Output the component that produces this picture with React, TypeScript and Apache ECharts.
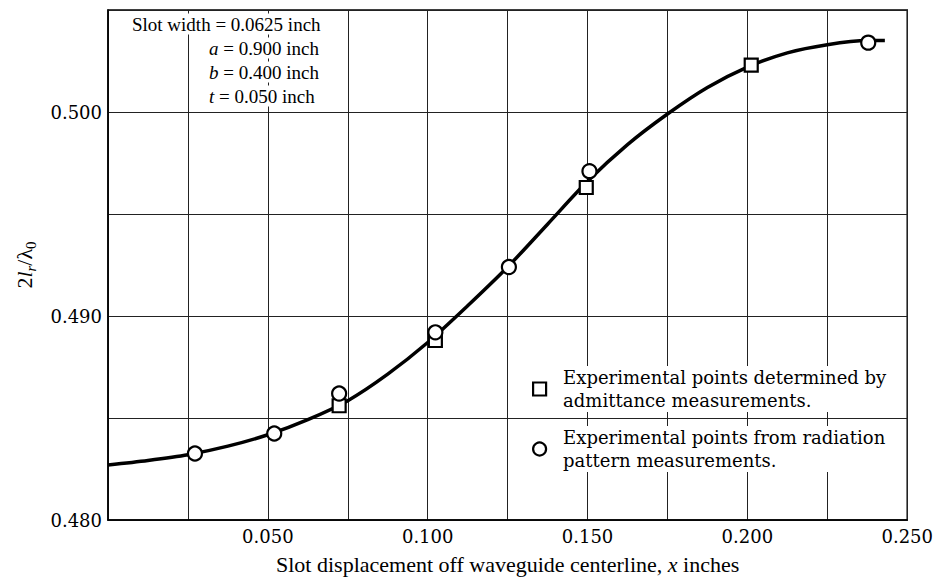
import React, { useEffect, useRef } from "react";
import * as echarts from "echarts";

// Smooth fitted curve
const curveX = [0, 0.0125, 0.025, 0.0375, 0.05, 0.0625, 0.075, 0.0875, 0.1, 0.1125, 0.125, 0.1375, 0.15, 0.1625, 0.175, 0.1875, 0.2, 0.2125, 0.225, 0.2375, 0.243];
const curveY = [0.4827, 0.48292, 0.4832, 0.48362, 0.48418, 0.48492, 0.48585, 0.48715, 0.4887, 0.4905, 0.4924, 0.4945, 0.4966, 0.4984, 0.4999, 0.5012, 0.5022, 0.5029, 0.5033, 0.5035, 0.5035];

// Experimental points determined by admittance measurements (squares)
const squareX = [0.0723, 0.1024, 0.1496, 0.2012];
const squareY = [0.4856, 0.4888, 0.4963, 0.5023];

// Experimental points from radiation pattern measurements (circles)
const circleX = [0.0272, 0.052, 0.0723, 0.1024, 0.1254, 0.1506, 0.2378];
const circleY = [0.48326, 0.48424, 0.4862, 0.4892, 0.4924, 0.4971, 0.5034];

const xLabelValues = [0.05, 0.1, 0.15, 0.2, 0.25];
const yLabelValues = [0.48, 0.49, 0.5];

const annotationLines = [
  "{n|Slot width = 0.0625 inch}",
  "{i|a}{n| = 0.900 inch}",
  "{i|b}{n| = 0.400 inch}",
  "{i|t}{n| = 0.050 inch}",
];

const squareName = "Experimental points determined by\nadmittance measurements.";
const circleName = "Experimental points from radiation\npattern measurements.";

const SERIF = "Liberation Serif";
const WIDE = "DejaVu Serif";

export default function App() {
  const ref = useRef<HTMLDivElement>(null);
  useEffect(() => {
    if (!ref.current) return;
    const chart = echarts.init(ref.current, null, { renderer: "svg" });
    const near = (v: number, list: number[]) => list.some((t) => Math.abs(v - t) < 1e-6);
    const richAnno = {
      n: { fontFamily: SERIF, fontSize: 19, color: "#000" },
      i: { fontFamily: SERIF, fontSize: 19, fontStyle: "italic", color: "#000" },
    };
    chart.setOption({
      animation: false,
      backgroundColor: "#fff",
      grid: {
        left: 108,
        right: 28,
        top: 10,
        bottom: 59,
        show: true,
        borderColor: "#000",
        borderWidth: 1.5,
        containLabel: false,
      },
      xAxis: {
        type: "value",
        min: 0,
        max: 0.25,
        interval: 0.025,
        name: "{n|Slot displacement off waveguide centerline, }{i|x}{n| inches}",
        nameLocation: "middle",
        nameGap: 33,
        nameTextStyle: {
          fontFamily: SERIF,
          fontSize: 22,
          color: "#000",
          rich: {
            n: { fontFamily: SERIF, fontSize: 22, color: "#000" },
            i: { fontFamily: SERIF, fontSize: 22, fontStyle: "italic", color: "#000" },
          },
        },
        axisLine: { show: true, lineStyle: { color: "#000", width: 1.5 } },
        axisTick: { show: false },
        splitLine: { show: true, lineStyle: { color: "#222", width: 1 } },
        axisLabel: {
          margin: 7,
          fontFamily: WIDE,
          fontSize: 18,
          color: "#000",
          showMinLabel: true,
          showMaxLabel: true,
          formatter: (v: number) => (near(v, xLabelValues) ? v.toFixed(3) : ""),
        },
      },
      yAxis: {
        type: "value",
        min: 0.48,
        max: 0.505,
        interval: 0.005,
        name: "{n|2}{i|l}{sub|r}{n|/λ}{sub0|0}",
        nameLocation: "middle",
        nameRotate: 90,
        nameGap: 70,
        nameTextStyle: {
          fontFamily: SERIF,
          fontSize: 22,
          color: "#000",
          rich: {
            n: { fontFamily: SERIF, fontSize: 22, color: "#000" },
            i: { fontFamily: SERIF, fontSize: 22, fontStyle: "italic", color: "#000" },
            sub: { fontFamily: SERIF, fontSize: 15, fontStyle: "italic", color: "#000", padding: [12, 0, 0, 0] },
            sub0: { fontFamily: SERIF, fontSize: 15, color: "#000", padding: [12, 0, 0, 0] },
          },
        },
        axisLine: { show: true, lineStyle: { color: "#000", width: 1.5 } },
        axisTick: { show: false },
        splitLine: { show: true, lineStyle: { color: "#222", width: 1 } },
        axisLabel: {
          margin: 6,
          fontFamily: WIDE,
          fontSize: 18,
          color: "#000",
          formatter: (v: number) => (near(v, yLabelValues) ? v.toFixed(3) : ""),
        },
      },
      legend: {
        show: true,
        orient: "vertical",
        left: 532,
        top: 366,
        padding: 0,
        itemGap: 14,
        itemWidth: 13,
        itemHeight: 13,
        data: [squareName, circleName],
        textStyle: {
          fontFamily: WIDE,
          fontSize: 18,
          lineHeight: 23,
          color: "#000",
          backgroundColor: "#fff",
          padding: [0, 4, 0, 12],
        },
        itemStyle: { borderWidth: 2.2, borderColor: "#000", color: "#fff" },
      },
      graphic: annotationLines.map((t, idx) => ({
        type: "text",
        x: idx === 0 ? 130 : 207,
        y: 24 + idx * 24,
        z: 100,
        style: {
          text: t,
          fontFamily: SERIF,
          fontSize: 19,
          fill: "#000",
          verticalAlign: "middle",
          backgroundColor: "#fff",
          padding: [1, 3, 1, 2],
          rich: richAnno,
        },
      })),
      series: [
        {
          name: "curve",
          type: "line",
          data: curveX.map((x, i) => [x, curveY[i]]),
          smooth: 0.3,
          showSymbol: false,
          symbol: "none",
          lineStyle: { color: "#000", width: 3.5 },
          z: 3,
        },
        {
          name: squareName,
          type: "scatter",
          symbol: "rect",
          symbolSize: 13,
          data: squareX.map((x, i) => [x, squareY[i]]),
          itemStyle: { color: "#fff", borderColor: "#000", borderWidth: 2.2, opacity: 1 },
          z: 4,
        },
        {
          name: circleName,
          type: "scatter",
          symbol: "circle",
          symbolSize: 14,
          data: circleX.map((x, i) => [x, circleY[i]]),
          itemStyle: { color: "#fff", borderColor: "#000", borderWidth: 2.2, opacity: 1 },
          z: 5,
        },
      ],
    });
    return () => chart.dispose();
  }, []);
  return (
    <div
      ref={ref}
      style={{ position: "absolute", left: 0, top: 0, width: 936, height: 580, background: "#fff" }}
    />
  );
}
